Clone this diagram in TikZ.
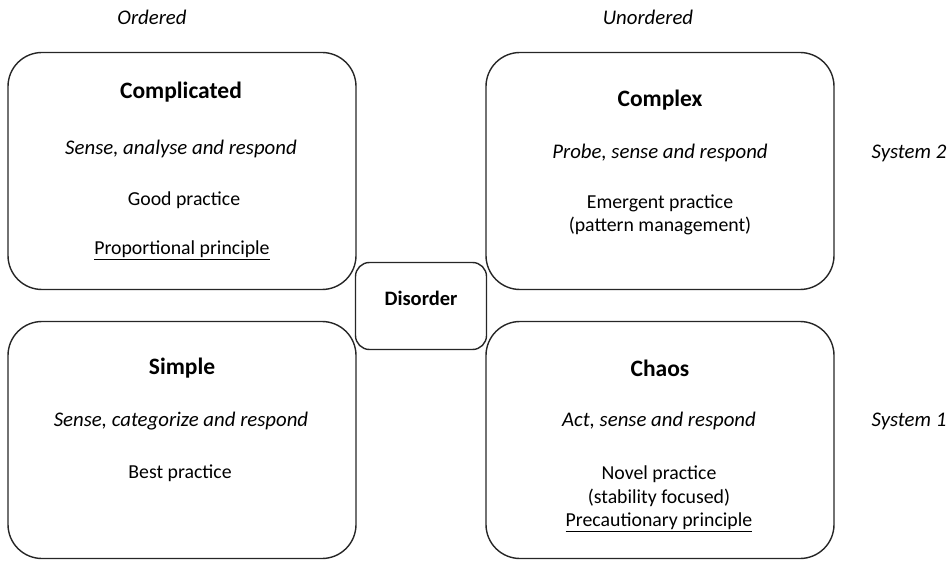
\documentclass[tikz,border=0pt]{standalone}
\usepackage{fontspec}
\setmainfont{Carlito}
\begin{document}
\begin{tikzpicture}[x=1pt,y=-1pt,
  bigbox/.style={draw=black!85, line width=1.4pt, rounded corners=34pt, minimum width=348pt, minimum height=237pt, inner sep=0pt},
  smallbox/.style={draw=black!85, line width=1.4pt, rounded corners=14pt, minimum width=131pt, minimum height=87pt, inner sep=0pt},
  ttl/.style={font=\fontsize{23.5}{28}\selectfont\bfseries, inner sep=0pt},
  txt/.style={font=\fontsize{19.8}{23.5}\selectfont, inner sep=0pt},
  itx/.style={font=\fontsize{20.8}{24}\selectfont\itshape, inner sep=0pt}]
\useasboundingbox (0,0) rectangle (950,561);
% boxes
\node[bigbox] (complicated) at (182,171) {};
\node[bigbox] (complex) at (660,171) {};
\node[bigbox] (simple) at (182,440) {};
\node[bigbox] (chaos) at (660,440) {};
\node[smallbox, fill=white] (disorder) at (421,306) {};
% headers
\node[itx] (ordered) at (152,17) {Ordered};
\node[itx] (unordered) at (648,17) {Unordered};
\node[itx] (sys2) at (909,153) {System 2};
\node[itx] (sys1) at (909,421) {System 1};
% complicated
\node[ttl] (t1) at (181,92) {Complicated};
\node[itx] (a1) at (181,149) {Sense, analyse and respond};
\node[txt] (b1) at (184,200) {Good practice};
\node[txt] (c1) at (182,250) {\underline{Proportional principle}};
% complex
\node[ttl] (t2) at (660,100) {Complex};
\node[itx] (a2) at (660,153) {Probe, sense and respond};
\node[txt, align=center] (b2) at (660,215) {Emergent practice\\(pattern management)};
% disorder
\node[font=\fontsize{20.5}{24}\selectfont\bfseries, inner sep=0pt] (d) at (421,298) {Disorder};
% simple
\node[ttl] (t3) at (182,368) {Simple};
\node[itx] (a3) at (181,421) {Sense, categorize and respond};
\node[txt] (b3) at (180,473) {Best practice};
% chaos
\node[ttl] (t4) at (660,368) {Chaos};
\node[itx] (a4) at (659,421) {Act, sense and respond};
\node[txt, align=center] (b4) at (659,499) {Novel practice\\(stability focused)\\\underline{Precautionary principle}};
\end{tikzpicture}
\end{document}
